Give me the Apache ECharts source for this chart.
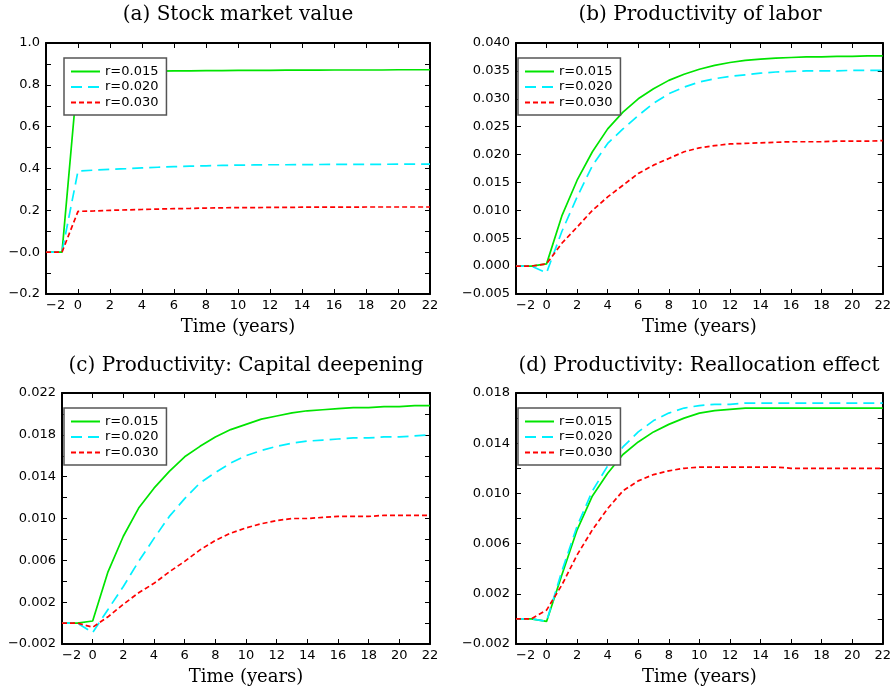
<!DOCTYPE html>
<html>
<head>
<meta charset="utf-8">
<script src="https://cdn.jsdelivr.net/npm/echarts@6/dist/echarts.min.js"></script>
<style>
html,body{margin:0;padding:0;background:#fff;}
#chart{width:894px;height:692px;}
</style>
</head>
<body>
<div id="chart"></div>
<script>
// years -2 .. 22
const years=[-2,-1,0,1,2,3,4,5,6,7,8,9,10,11,12,13,14,15,16,17,18,19,20,21,22];

const rateNames=["r=0.015","r=0.020","r=0.030"];

const panelTitles=[
    "(a) Stock market value",
    "(b) Productivity of labor",
    "(c) Productivity: Capital deepening",
    "(d) Productivity: Reallocation effect"
];

// (a) stock market value
const stock015=[0,0,0.862,0.863,0.864,0.865,0.866,0.866,0.867,0.867,0.868,0.868,0.869,0.869,0.869,0.870,0.870,0.870,0.871,0.871,0.871,0.871,0.872,0.872,0.872];
const stock020=[0,0,0.388,0.392,0.396,0.399,0.403,0.406,0.409,0.411,0.413,0.415,0.416,0.417,0.418,0.418,0.419,0.419,0.420,0.420,0.420,0.420,0.421,0.421,0.421];
const stock030=[0,0,0.195,0.197,0.200,0.202,0.204,0.206,0.208,0.209,0.211,0.212,0.213,0.213,0.214,0.214,0.215,0.215,0.215,0.215,0.216,0.216,0.216,0.216,0.216];

// (b) productivity of labor
const labor015=[0,0,0.0004,0.0090,0.0154,0.0205,0.0246,0.0276,0.0300,0.0318,0.0333,0.0344,0.0353,0.0360,0.0365,0.0369,0.0371,0.0373,0.0374,0.0375,0.0375,0.0376,0.0376,0.0377,0.0377];
const labor020=[0,0,-0.0012,0.0062,0.0124,0.0180,0.0220,0.0246,0.0270,0.0292,0.0309,0.0321,0.0330,0.0336,0.0340,0.0343,0.0346,0.0348,0.0349,0.0350,0.0350,0.0350,0.0351,0.0351,0.0351];
const labor030=[0,0,0.0004,0.0041,0.0070,0.0100,0.0124,0.0145,0.0166,0.0181,0.0193,0.0205,0.0212,0.0216,0.0219,0.0220,0.0221,0.0222,0.0223,0.0223,0.0223,0.0224,0.0224,0.0224,0.0225];

// (c) capital deepening
const capital015=[0,0,0.0002,0.0049,0.0083,0.0110,0.0129,0.0145,0.0159,0.0169,0.0178,0.0185,0.0190,0.0195,0.0198,0.0201,0.0203,0.0204,0.0205,0.0206,0.0206,0.0207,0.0207,0.0208,0.0208];
const capital020=[0,0,-0.0009,0.0013,0.0035,0.0059,0.0081,0.0102,0.0119,0.0134,0.0144,0.0153,0.0160,0.0165,0.0169,0.0172,0.0174,0.0175,0.0176,0.0177,0.0177,0.0178,0.0178,0.0179,0.0180];
const capital030=[0,0,-0.0004,0.0006,0.0018,0.0029,0.0038,0.0049,0.0059,0.0070,0.0079,0.0086,0.0091,0.0095,0.0098,0.0100,0.0100,0.0101,0.0102,0.0102,0.0102,0.0103,0.0103,0.0103,0.0103];

// (d) reallocation effect
const realloc015=[0,0,-0.0002,0.0035,0.0071,0.0098,0.0116,0.0131,0.0141,0.0149,0.0155,0.0160,0.0164,0.0166,0.0167,0.0168,0.0168,0.0168,0.0168,0.0168,0.0168,0.0168,0.0168,0.0168,0.0168];
const realloc020=[0,0,-0.0002,0.0038,0.0074,0.0102,0.0122,0.0137,0.0149,0.0158,0.0164,0.0168,0.0170,0.0171,0.0171,0.0172,0.0172,0.0172,0.0172,0.0172,0.0172,0.0172,0.0172,0.0172,0.0172];
const realloc030=[0,0,0.0007,0.0027,0.0051,0.0071,0.0088,0.0102,0.0110,0.0115,0.0118,0.0120,0.0121,0.0121,0.0121,0.0121,0.0121,0.0121,0.0120,0.0120,0.0120,0.0120,0.0120,0.0120,0.0120];

const MINUS="\u2212";

function fmtStock(v){
    if(Math.abs(v)<1e-9){
        return MINUS+"0.0";
    }
    return (v<0?MINUS:"")+Math.abs(v).toFixed(1);
}

function fmtLabor(v){
    return (v<-1e-9?MINUS:"")+Math.abs(v).toFixed(3);
}

// only every other tick (odd multiples of 0.002) carries a label
function fmtOdd(v){
    const k=Math.round(v/0.002);
    if(k%2===0){
        return "";
    }
    return (v<0?MINUS:"")+Math.abs(v).toFixed(3);
}

const panels=[
    {
        grid:{left:46,top:43,width:384,height:251},
        titleX:238,titleY:5,legendX:64,
        yMin:-0.2,yMax:1.0,yStep:0.2,minor:true,fmt:fmtStock,
        lines:[stock015,stock020,stock030]
    },
    {
        grid:{left:516,top:43,width:368,height:251},
        titleX:700,titleY:5,legendX:518,
        yMin:-0.005,yMax:0.040,yStep:0.005,minor:false,fmt:fmtLabor,
        lines:[labor015,labor020,labor030]
    },
    {
        grid:{left:62,top:393,width:368,height:251},
        titleX:246,titleY:356,legendX:64,
        yMin:-0.002,yMax:0.022,yStep:0.002,minor:false,fmt:fmtOdd,
        lines:[capital015,capital020,capital030]
    },
    {
        grid:{left:516,top:393,width:368,height:251},
        titleX:699,titleY:356,legendX:518,
        yMin:-0.002,yMax:0.018,yStep:0.002,minor:false,fmt:fmtOdd,
        lines:[realloc015,realloc020,realloc030]
    }
];

const lineColors=["#00e400","#00f0ff","#ff0000"];
const lineDash=["solid",[11,6],[5,3]];

const tickFont="DejaVu Sans";
const titleFont="DejaVu Serif";

const grids=[];
const xAxes=[];
const yAxes=[];
const series=[];
const titles=[];
const legends=[];

panels.forEach((p,i)=>{

    grids.push(p.grid);

    titles.push({
        text:panelTitles[i],
        left:p.titleX,
        top:p.titleY,
        textAlign:"center",
        padding:0,
        textStyle:{
            fontFamily:titleFont,
            fontSize:20,
            fontWeight:"normal",
            color:"#000"
        }
    });

    const axisLine={show:true,onZero:false,lineStyle:{color:"#000",width:2}};
    const tick={show:true,inside:true,length:5,lineStyle:{color:"#000",width:1}};

    xAxes.push({
        gridIndex:i,
        type:"value",
        position:"bottom",
        min:-2,
        max:22,
        interval:2,
        axisLine,
        axisTick:tick,
        splitLine:{show:false},
        axisLabel:{
            margin:5,
            fontFamily:tickFont,
            fontSize:13,
            color:"#000",
            alignMinLabel:"left",
            formatter:v=>(v<0?MINUS:"")+Math.abs(v)
        },
        name:"Time (years)",
        nameLocation:"middle",
        nameGap:24,
        nameTextStyle:{
            fontFamily:titleFont,
            fontSize:18,
            color:"#000"
        }
    });

    xAxes.push({
        gridIndex:i,
        type:"value",
        position:"top",
        min:-2,
        max:22,
        interval:2,
        axisLine,
        axisTick:tick,
        axisLabel:{show:false},
        splitLine:{show:false}
    });

    const minorTick={
        show:p.minor,
        splitNumber:2,
        length:5,
        lineStyle:{color:"#000",width:1}
    };

    yAxes.push({
        gridIndex:i,
        type:"value",
        position:"left",
        min:p.yMin,
        max:p.yMax,
        interval:p.yStep,
        axisLine,
        axisTick:tick,
        minorTick,
        splitLine:{show:false},
        axisLabel:{
            margin:6,
            fontFamily:tickFont,
            fontSize:13,
            color:"#000",
            formatter:p.fmt
        }
    });

    yAxes.push({
        gridIndex:i,
        type:"value",
        position:"right",
        min:p.yMin,
        max:p.yMax,
        interval:p.yStep,
        axisLine,
        axisTick:tick,
        minorTick,
        axisLabel:{show:false},
        splitLine:{show:false}
    });

    p.lines.forEach((vals,k)=>{
        series.push({
            name:rateNames[k],
            type:"line",
            xAxisIndex:i*2,
            yAxisIndex:i*2,
            symbol:"none",
            z:2+k,
            lineStyle:{
                color:lineColors[k],
                width:1.7,
                type:lineDash[k]
            },
            itemStyle:{color:lineColors[k]},
            data:years.map((y,j)=>[y,vals[j]])
        });
    });

    legends.push({
        data:rateNames,
        orient:"vertical",
        left:p.legendX,
        top:p.grid.top+15,
        padding:[7,8,6,6],
        itemGap:2.5,
        itemWidth:29,
        itemHeight:14,
        backgroundColor:"#fff",
        borderColor:"#555",
        borderWidth:1.5,
        borderRadius:0,
        selectedMode:false,
        itemStyle:{opacity:0},
        textStyle:{
            fontFamily:tickFont,
            fontSize:13,
            color:"#000"
        }
    });

});

const chart=echarts.init(document.getElementById("chart"),null,{renderer:"canvas"});

chart.setOption({
    animation:false,
    backgroundColor:"#fff",
    title:titles,
    legend:legends,
    grid:grids,
    xAxis:xAxes,
    yAxis:yAxes,
    series
});

window.addEventListener("resize",()=>chart.resize());
</script>
</body>
</html>
